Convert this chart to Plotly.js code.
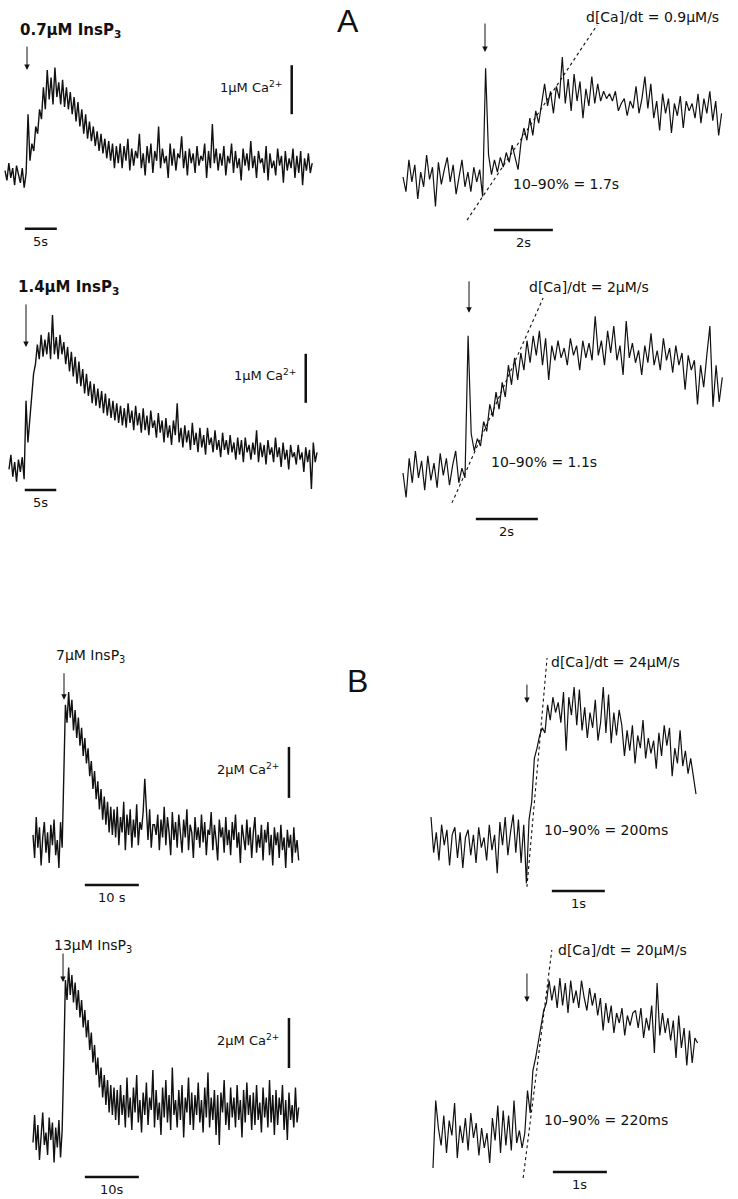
<!DOCTYPE html>
<html>
<head>
<meta charset="utf-8">
<script src="https://cdn.plot.ly/plotly-3.0.1.min.js"></script>
<style>
  html, body { margin: 0; padding: 0; background: #fff; }
  #fig { width: 738px; height: 1199px; }
</style>
</head>
<body>
<div id="fig"></div>
<script>
var dtA1 = 0.3;
var caA1 = [0.05,-0.15,0.2,-0.1,0.1,-0.25,0.15,-0.05,-0.2,0.1,-0.3,0.0,
  1.2,0.25,0.6,0.45,0.95,0.8,1.3,1.1,1.75,1.3,2.1,1.5,1.95,1.4,2.15,1.55,1.85,1.4,
  1.9,1.35,1.75,1.3,1.65,1.2,1.55,1.05,1.45,0.95,1.3,0.8,1.2,0.7,1.05,0.65,0.95,0.55,
  0.85,0.45,0.8,0.4,0.7,0.3,0.65,0.25,0.6,0.1,0.55,
  0.2,0.6,0.1,0.55,0.25,0.7,0.05,0.5,0.15,0.45,
  0.3,0.8,0.1,0.4,-0.05,0.55,0.2,0.6,0.0,0.45,
  0.25,0.95,0.1,0.5,0.2,0.35,-0.1,0.6,0.15,0.5,
  0.05,0.4,0.3,0.75,0.1,0.45,-0.05,0.5,0.2,0.4,
  0.0,0.55,0.15,0.35,0.25,0.6,-0.1,0.45,0.1,1.0,
  0.2,0.5,0.05,0.4,0.15,0.55,-0.05,0.35,0.2,0.6,
  0.0,0.45,0.1,0.3,-0.15,0.5,0.15,0.4,0.05,0.65,
  0.1,0.35,-0.1,0.45,0.2,0.3,0.0,0.55,-0.15,0.4,
  0.1,0.25,-0.05,0.5,0.15,0.35,-0.2,0.45,0.05,0.3,
  0.1,0.5,-0.1,0.35,0.0,0.45,-0.25,0.3,0.05,0.4,
  0.0,0.2];

var dtA2 = 0.1;
var caA2 = [0.0,-0.3,0.35,-0.1,0.25,-0.45,0.1,-0.2,0.45,-0.05,0.2,-0.6,0.3,-0.15,
  0.15,0.4,-0.1,0.25,-0.35,0.05,0.35,-0.2,0.1,-0.3,0.2,-0.1,0.15,-0.4,
  2.22,0.45,0.05,0.35,0.1,0.4,0.2,0.5,0.3,0.65,0.4,0.15,0.7,1.0,0.75,1.2,0.85,1.35,
  1.1,1.55,1.9,1.45,1.75,1.3,1.85,1.6,2.45,1.5,2.0,1.35,2.1,1.55,1.95,1.2,1.8,1.45,
  2.05,1.5,1.9,1.55,1.75,1.6,1.7,1.55,1.75,1.35,1.5,1.6,1.25,1.55,1.4,1.85,1.3,1.6,
  2.05,1.4,1.9,1.2,1.55,0.95,1.7,1.3,1.6,0.9,1.5,1.25,1.65,1.0,1.55,1.35,1.5,1.2,
  1.7,1.1,1.6,1.3,1.75,1.15,1.55,0.85,1.3];

var dtA3 = 0.3;
var caA3 = [-0.05,0.25,-0.2,0.1,-0.3,0.15,-0.1,0.2,-0.25,
  1.35,0.5,1.0,1.45,1.9,2.1,2.5,2.2,2.7,2.25,2.6,2.3,2.75,2.2,3.1,2.3,2.65,2.2,2.7,
  2.3,2.55,2.1,2.45,1.95,2.35,1.85,2.25,1.7,2.15,1.65,2.0,1.5,1.9,1.45,1.75,1.3,1.7,
  1.25,1.6,1.2,1.55,1.1,1.5,1.05,1.4,1.0,1.35,0.95,1.3,0.9,1.25,0.85,1.2,
  0.8,1.3,0.9,1.15,0.75,1.25,0.85,1.1,0.7,1.2,
  0.75,1.05,0.65,1.15,0.8,0.95,0.6,1.1,0.7,0.95,
  0.5,1.0,0.6,0.85,0.45,0.95,0.65,1.3,0.5,0.8,
  0.4,0.85,0.5,0.75,0.35,0.9,0.45,0.7,0.3,0.8,
  0.4,0.65,0.25,0.8,0.45,0.6,0.3,0.75,0.35,0.55,
  0.2,0.7,0.35,0.55,0.25,0.65,0.3,0.5,0.15,0.6,
  0.25,0.55,0.1,0.6,0.3,0.45,0.15,0.5,0.25,0.75,
  0.1,0.5,0.2,0.45,0.05,0.55,0.25,0.4,0.1,0.6,
  0.2,0.4,0.0,0.5,0.15,0.35,-0.05,0.45,0.2,0.3,
  0.05,0.45,0.15,0.3,-0.1,0.4,0.1,0.35,-0.45,0.5,
  0.1,0.3];

var dtA4 = 0.1;
var caA4 = [0.0,-0.5,0.3,-0.2,0.45,-0.1,0.25,-0.35,0.35,-0.15,0.2,-0.3,0.4,-0.05,0.3,
  -0.25,0.15,0.45,-0.2,0.1,-0.1,
  2.8,0.8,0.45,0.7,0.55,1.05,0.85,1.4,1.15,1.65,1.3,1.85,1.55,2.2,1.8,2.35,1.9,2.45,
  2.1,2.7,2.25,2.8,2.4,2.9,2.2,2.75,1.9,2.6,2.3,2.7,2.35,2.55,2.2,2.75,2.4,2.6,2.1,
  2.7,2.35,2.65,2.3,3.2,2.4,2.7,2.2,2.9,2.45,3.0,2.3,2.6,2.0,3.1,2.35,2.65,2.25,2.5,
  2.0,2.6,2.25,2.85,2.2,2.5,2.1,2.75,2.3,2.55,2.05,2.6,2.2,2.45,1.7,2.4,2.1,2.3,1.4,
  2.2,1.75,2.4,3.0,1.35,2.2,1.45,1.95];

var dtB1 = 0.3;
var caB1 = [0.2,-0.7,0.9,-0.3,0.5,-1.0,0.1,0.7,-0.5,0.3,-0.9,0.6,-0.2,0.8,-0.6,0.0,
  -1.1,0.7,-0.3,
  2.5,5.3,4.6,5.8,4.8,5.5,4.3,5.1,4.0,4.8,3.7,4.4,3.3,4.0,3.0,3.6,2.5,3.1,2.0,2.7,
  1.6,2.3,1.2,2.0,0.8,1.7,0.6,1.5,0.3,1.3,0.2,1.2,
  0.1,1.3,-0.2,0.9,0.3,1.5,-0.4,1.0,0.2,1.2,
  -0.3,0.8,0.1,1.4,-0.2,0.7,0.4,1.1,2.4,0.9,
  0.0,1.2,-0.3,0.6,0.6,0.2,1.0,-0.4,0.8,0.1,
  1.3,-0.2,0.9,0.3,-0.6,1.1,0.0,0.7,-0.3,1.0,
  0.2,-0.5,0.8,0.1,1.2,-0.4,0.6,0.3,-0.7,0.9,
  0.0,0.5,-0.3,1.0,-0.1,0.7,-0.6,0.4,0.2,1.1,
  -0.4,0.6,0.0,-0.8,0.8,0.1,0.5,-0.5,0.9,-0.2,
  0.4,-0.6,0.7,0.0,1.0,-0.3,0.3,-0.9,0.6,0.1,
  -0.4,0.8,-0.2,0.5,-0.7,0.3,0.9,-0.5,0.2,-0.3,
  0.6,-0.8,0.4,-0.1,0.7,-0.6,0.2,-1.0,0.5,-0.2,
  0.3,-0.7,0.6,-0.4,0.1,-1.1,0.4,-0.3,0.2,-0.9,
  0.5,-0.5,0.0,-0.8];

var dtB2 = 0.05;
var caB2 = [0.9,-0.5,0.3,-0.8,0.6,-0.2,0.4,-1.0,0.2,0.5,
  -0.7,0.3,-1.1,0.1,0.4,-0.6,0.2,-0.9,0.5,-0.3,
  0.1,-0.8,0.6,-0.4,0.2,-1.3,0.7,-0.2,0.9,-0.6,
  0.3,1.0,-0.5,0.8,-0.9,0.6,-1.7,
  0.8,1.5,3.2,3.6,4.1,4.4,4.2,5.3,4.7,5.6,5.0,5.4,4.6,5.8,3.5,5.6,4.9,6.0,4.5,5.9,
  4.3,5.2,4.0,5.0,4.4,5.5,3.9,4.6,6.0,4.2,5.7,3.8,5.0,4.1,5.1,4.5,3.3,4.3,3.5,4.5,
  3.0,4.1,3.6,4.7,3.2,4.0,3.4,3.9,2.8,4.2,3.3,4.5,3.7,4.4,2.5,3.6,3.0,4.3,2.9,3.5,
  2.6,3.2,2.4,1.8];

var dtB3 = 0.3;
var caB3 = [-0.3,0.8,-0.6,0.4,-1.0,0.2,0.9,-0.4,0.1,-0.8,0.7,-0.2,0.5,-1.1,0.3,-0.5,
  0.6,-0.9,0.2,
  3.0,6.2,5.4,6.7,5.6,6.4,5.3,6.1,5.0,5.8,4.7,5.4,4.3,5.0,3.9,4.6,3.4,4.1,2.9,3.6,
  2.4,3.1,1.9,2.7,1.5,2.4,1.2,2.2,0.9,2.0,0.8,1.9,
  0.6,1.8,0.4,2.0,0.8,1.6,0.3,2.3,0.7,1.5,
  0.2,1.9,0.9,2.4,0.5,1.4,0.1,1.7,0.8,2.1,
  0.4,1.5,1.0,2.6,0.3,1.8,0.6,1.3,0.0,1.9,
  0.7,2.2,0.5,1.6,0.2,2.7,0.8,1.4,0.3,1.8,
  0.6,2.0,-0.1,1.5,0.9,2.3,0.4,1.7,0.2,1.6,
  0.8,2.1,0.5,1.4,0.1,1.9,0.7,2.5,0.3,1.5,
  0.6,1.8,0.0,1.6,-0.4,1.7,0.9,2.2,0.4,1.3,
  0.2,1.9,0.7,1.5,0.3,2.0,0.6,1.4,-0.1,1.8,
  0.5,2.1,0.8,1.6,0.2,1.7,0.4,2.0,0.6,1.3,
  0.1,1.9,0.7,1.5,0.3,2.2,0.5,1.6,0.0,1.8,
  0.4,1.5,0.8,2.0,0.2,1.4,-0.2,1.7,0.6,1.2,
  0.3,1.9,0.5,1.1];

var dtB4 = 0.05;
var caB4 = [-1.2,1.5,0.4,-0.3,0.9,-0.6,0.7,0.1,1.4,-0.8,
  0.5,-0.2,0.8,-0.5,1.0,0.0,0.6,-0.7,0.4,-0.4,
  0.2,-1.0,0.8,-0.1,1.3,-0.6,1.1,-0.3,0.9,-0.5,
  1.5,-0.2,0.3,
  -0.4,0.2,1.9,1.0,2.7,3.2,3.8,4.5,5.1,5.4,6.3,5.5,6.1,5.2,6.4,5.3,6.2,5.0,6.3,5.4,
  5.9,5.2,6.3,5.6,5.1,6.0,5.3,5.8,4.9,5.6,4.3,5.4,4.6,5.3,4.2,5.0,4.6,5.2,4.1,4.9,
  4.5,5.0,5.1,4.4,5.2,4.0,4.8,4.3,5.3,3.4,6.2,4.1,5.0,4.2,4.8,3.9,4.7,3.2,4.9,3.6,
  4.4,2.9,4.3,3.0,4.0,3.8];

// InsP3 release time (s) of each trace
var stepT = [3.44, 2.78, 2.7, 2.13, 5.74, 1.81, 5.56, 1.74];
var doseLabels = ['0.7\u03bcM InsP<sub>3</sub>', '', '1.4\u03bcM InsP<sub>3</sub>', '',
                  '7\u03bcM InsP<sub>3</sub>', '', '13\u03bcM InsP<sub>3</sub>', ''];
// fitted rise lines (t, uM) on the fast traces
var fitA2 = {t: [2.17, 6.58], c: [-0.88, 3.1]};
var fitA4 = {t: [1.58, 4.52], c: [-0.61, 3.57]};
var fitB2 = {t: [1.81, 2.19], c: [-1.84, 7.14]};
var fitB4 = {t: [1.67, 2.2], c: [-1.6, 7.52]};
var rateLabels = ['d[Ca]/dt = 0.9\u03bcM/s', 'd[Ca]/dt = 2\u03bcM/s',
                  'd[Ca]/dt = 24\u03bcM/s', 'd[Ca]/dt = 20\u03bcM/s'];
var riseLabels = ['10\u201390% = 1.7s', '10\u201390% = 1.1s',
                  '10\u201390% = 200ms', '10\u201390% = 220ms'];

var W = 738, H = 1199;
var FONT = 'DejaVu Sans, Liberation Sans, sans-serif';
function px(x) { return x / W; }
function py(y) { return 1 - y / H; }

// pixel placement of each panel: t=0 column, px per s, baseline row, px per uM
var panels = [
  {y: caA1, dt: dtA1, x0: 5,   pps: 6.4,  y0: 173,  ppu: 49},
  {y: caA2, dt: dtA2, x0: 403, pps: 29.5, y0: 177,  ppu: 49},
  {y: caA3, dt: dtA3, x0: 9,   pps: 6.3,  y0: 467,  ppu: 49},
  {y: caA4, dt: dtA4, x0: 403, pps: 31,   y0: 473,  ppu: 49},
  {y: caB1, dt: dtB1, x0: 33,  pps: 5.4,  y0: 840,  ppu: 25.5},
  {y: caB2, dt: dtB2, x0: 431, pps: 53,   y0: 840,  ppu: 25.5},
  {y: caB3, dt: dtB3, x0: 33,  pps: 5.4,  y0: 1135, ppu: 25},
  {y: caB4, dt: dtB4, x0: 433, pps: 54,   y0: 1138, ppu: 25}
];

var data = [];
var layout = {
  width: W, height: H,
  margin: {l: 0, r: 0, t: 0, b: 0},
  paper_bgcolor: '#fff', plot_bgcolor: 'rgba(0,0,0,0)',
  showlegend: false,
  font: {family: FONT, color: '#111', size: 13},
  annotations: [], shapes: []
};

panels.forEach(function (p, i) {
  var n = i + 1, sfx = n === 1 ? '' : String(n);
  layout['xaxis' + sfx] = {domain: [0, 1], range: [-p.x0 / p.pps, (W - p.x0) / p.pps],
    visible: false, fixedrange: true, anchor: 'y' + sfx};
  layout['yaxis' + sfx] = {domain: [0, 1], range: [-(H - p.y0) / p.ppu, p.y0 / p.ppu],
    visible: false, fixedrange: true, anchor: 'x' + sfx};
  data.push({type: 'scatter', mode: 'lines', x0: 0, dx: p.dt, y: p.y,
    xaxis: 'x' + sfx, yaxis: 'y' + sfx, hoverinfo: 'skip',
    line: {color: '#111', width: i % 2 === 0 ? 1.4 : 1.2}});
});

// dashed fits
[[fitA2, 2], [fitA4, 4], [fitB2, 6], [fitB4, 8]].forEach(function (f) {
  data.push({type: 'scatter', mode: 'lines', x: f[0].t, y: f[0].c,
    xaxis: 'x' + f[1], yaxis: 'y' + f[1], hoverinfo: 'skip',
    line: {color: '#111', width: 1.1, dash: '3px,3px'}});
});

// release arrows: tip value and shaft length (px)
var arrowTip = [2.1, 2.55, 2.45, 3.27, 5.5, 5.37, 6.12, 5.44];
var arrowLen = [25, 30, 44, 33, 28, 20, 30, 30];
stepT.forEach(function (t, i) {
  var sfx = i === 0 ? '' : String(i + 1);
  layout.annotations.push({xref: 'x' + sfx, yref: 'y' + sfx, x: t, y: arrowTip[i],
    text: '', showarrow: true, arrowhead: 2, arrowsize: 1.1, arrowwidth: 1,
    arrowcolor: '#111', ax: 0, ay: -arrowLen[i]});
});

// scale bars, in each panel's own units
var hBars = [
  {p: 1, t: [3.1, 8.1],   c: -1.14, lab: '5s'},
  {p: 2, t: [3.08, 5.08], c: -1.08, lab: '2s'},
  {p: 3, t: [2.5, 7.5],   c: -0.47, lab: '5s'},
  {p: 4, t: [2.35, 4.35], c: -0.94, lab: '2s'},
  {p: 5, t: [9.6, 19.6],  c: -1.76, lab: '10 s'},
  {p: 6, t: [2.28, 3.28], c: -2.0,  lab: '1s'},
  {p: 7, t: [9.6, 19.6],  c: -1.68, lab: '10s'},
  {p: 8, t: [2.22, 3.22], c: -1.36, lab: '1s'}
];
var vBars = [
  {p: 1, t: 44.8, c: [1.2, 2.2],   lab: '1\u03bcM Ca<sup>2+</sup>'},
  {p: 3, t: 47.1, c: [1.31, 2.31], lab: '1\u03bcM Ca<sup>2+</sup>'},
  {p: 5, t: 47.4, c: [1.65, 3.65], lab: '2\u03bcM Ca<sup>2+</sup>'},
  {p: 7, t: 47.4, c: [2.68, 4.68], lab: '2\u03bcM Ca<sup>2+</sup>'}
];
hBars.forEach(function (b) {
  var sfx = b.p === 1 ? '' : String(b.p);
  layout.shapes.push({type: 'line', xref: 'x' + sfx, yref: 'y' + sfx,
    x0: b.t[0], x1: b.t[1], y0: b.c, y1: b.c, line: {color: '#111', width: 2.5}});
  layout.annotations.push({xref: 'x' + sfx, yref: 'y' + sfx, x: (b.t[0] + b.t[1]) / 2,
    y: b.c, yshift: -3, yanchor: 'top', text: b.lab, showarrow: false,
    font: {size: 13}});
});
vBars.forEach(function (b) {
  var sfx = b.p === 1 ? '' : String(b.p);
  layout.shapes.push({type: 'line', xref: 'x' + sfx, yref: 'y' + sfx,
    x0: b.t, x1: b.t, y0: b.c[0], y1: b.c[1], line: {color: '#111', width: 2.5}});
  layout.annotations.push({xref: 'x' + sfx, yref: 'y' + sfx, x: b.t,
    y: (b.c[0] + b.c[1]) / 2, xshift: -8, yshift: 3, xanchor: 'right', yanchor: 'middle',
    text: b.lab, showarrow: false, font: {size: 13}});
});

function label(text, x, y, opts) {
  var a = {xref: 'paper', yref: 'paper', x: px(x), y: py(y), text: text,
    showarrow: false, xanchor: 'left', yanchor: 'middle'};
  for (var k in opts) a[k] = opts[k];
  layout.annotations.push(a);
}
label('A', 348, 21, {xanchor: 'center', font: {size: 32, family: 'Liberation Sans, Arial, sans-serif'}});
label('B', 357, 681, {xanchor: 'center', font: {size: 32, family: 'Liberation Sans, Arial, sans-serif'}});
label('<b>' + doseLabels[0] + '</b>', 18, 30, {font: {size: 15}});
label('<b>' + doseLabels[2] + '</b>', 16, 287, {font: {size: 15}});
label(doseLabels[4], 54, 656, {font: {size: 14}});
label(doseLabels[6], 52, 946, {font: {size: 14}});
label(rateLabels[0], 584, 17, {font: {size: 14}});
label(riseLabels[0], 511, 184, {font: {size: 14}});
label(rateLabels[1], 527, 287, {font: {size: 14}});
label(riseLabels[1], 489, 462, {font: {size: 14}});
label(rateLabels[2], 549, 662, {font: {size: 14}});
label(riseLabels[2], 542, 830, {font: {size: 14}});
label(rateLabels[3], 556, 950, {font: {size: 14}});
label(riseLabels[3], 542, 1120, {font: {size: 14}});

Plotly.newPlot('fig', data, layout, {staticPlot: true});
</script>
</body>
</html>
